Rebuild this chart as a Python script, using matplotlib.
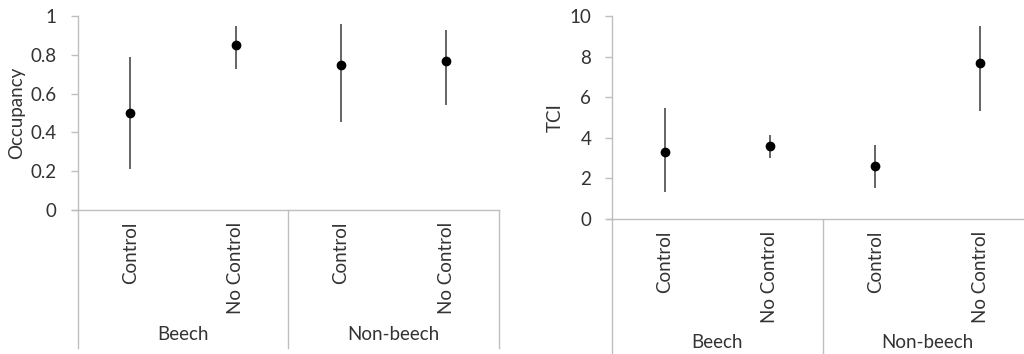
import matplotlib
matplotlib.use("Agg")
import matplotlib.pyplot as plt
from matplotlib.transforms import blended_transform_factory

plt.rcParams['font.family'] = ['Lato', 'DejaVu Sans']

groups = ["Beech", "Non-beech"]
treatments = ["Control", "No Control", "Control", "No Control"]

occupancy = [0.50, 0.85, 0.75, 0.77]
occupancy_low = [0.21, 0.725, 0.455, 0.54]
occupancy_high = [0.79, 0.95, 0.957, 0.93]
occupancy_ticks = [0, 0.2, 0.4, 0.6, 0.8, 1]
occupancy_ticklabels = ["0", "0.2", "0.4", "0.6", "0.8", "1"]

tci = [3.3, 3.6, 2.6, 7.7]
tci_low = [1.31, 2.99, 1.51, 5.33]
tci_high = [5.45, 4.14, 3.65, 9.52]
tci_ticks = [0, 2, 4, 6, 8, 10]
tci_ticklabels = ["0", "2", "4", "6", "8", "10"]

AXIS_GREY = "#bfbfbf"
TEXT = "#333333"
BAR = "#3a3a3a"
FS = 13.5

W, H = 1024, 354
fig = plt.figure(figsize=(W / 100, H / 100), dpi=100)


def panel(rect_px, means, lows, highs, ticks, ticklabels, ylim, ylabel,
          sep_bottom, label_gap, group_y, ylabel_x):
    x0, y_top, x1, y_zero = rect_px
    ax = fig.add_axes([x0 / W, (H - y_zero) / H, (x1 - x0) / W, (y_zero - y_top) / H])
    ax.set_xlim(0, 4)
    ax.set_ylim(*ylim)
    ax.patch.set_visible(False)
    for s in ("top", "right"):
        ax.spines[s].set_visible(False)
    for s in ("left", "bottom"):
        ax.spines[s].set_color(AXIS_GREY)
        ax.spines[s].set_linewidth(1.0)
    ax.spines["bottom"].set_bounds(0, 4)
    ax.set_yticks(ticks)
    ax.set_yticklabels(ticklabels, fontsize=FS, color=TEXT)
    ax.tick_params(axis="y", direction="out", length=5, width=1.0,
                   color=AXIS_GREY, pad=10)
    ax.set_xticks([])

    xs = [0.5, 1.5, 2.5, 3.5]
    yerr = [[m - lo for m, lo in zip(means, lows)],
            [hi - m for m, hi in zip(means, highs)]]
    ax.errorbar(xs, means, yerr=yerr, fmt="none", ecolor=BAR,
                elinewidth=1.1, capsize=0, clip_on=False, zorder=3)
    ax.plot(xs, means, "o", color="black", markersize=6, clip_on=False, zorder=4)

    trans = blended_transform_factory(ax.transData, ax.transAxes)
    h = y_zero - y_top
    # short tick to the left of the zero line
    ax.plot([-0.05, 0], [0, 0], color=AXIS_GREY, lw=1.0, transform=trans, clip_on=False)
    # vertical separators for the two category levels
    for xv in (0, 2, 4):
        ax.plot([xv, xv], [0, -sep_bottom / h], color=AXIS_GREY, lw=1.0,
                transform=trans, clip_on=False)
    for xv, lab in zip(xs, treatments):
        ax.text(xv, -label_gap / h, lab, rotation=90, ha="center", va="top",
                fontsize=FS, color=TEXT, transform=trans)
    for gi, g in enumerate(groups):
        ax.text(1 + 2 * gi, -group_y / h, g, ha="center", va="center",
                fontsize=FS, color=TEXT, transform=trans)

    fig.text(ylabel_x / W, 1 - ((y_top + y_zero) / 2) / H, ylabel, rotation=90,
             ha="center", va="center", fontsize=FS, color=TEXT)
    return ax


panel((77.7, 16, 499, 210), occupancy, occupancy_low, occupancy_high,
      occupancy_ticks, occupancy_ticklabels, (0, 1), "Occupancy",
      sep_bottom=138, label_gap=12, group_y=124, ylabel_x=17)
panel((612, 16, 1033, 219), tci, tci_low, tci_high,
      tci_ticks, tci_ticklabels, (0, 10), "TCI",
      sep_bottom=140, label_gap=12, group_y=123, ylabel_x=555)

fig.savefig("out.png", dpi=100)
